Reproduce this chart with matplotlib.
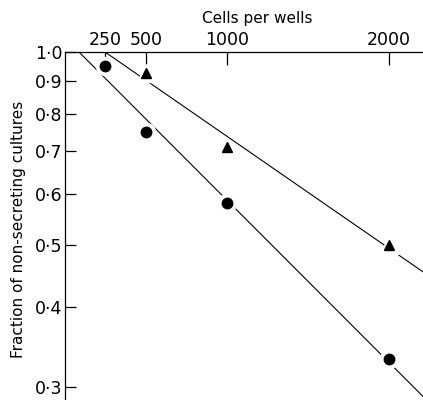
import numpy as np
import matplotlib
matplotlib.use("Agg")
import matplotlib.pyplot as plt
from matplotlib.ticker import FixedLocator, FixedFormatter, NullLocator

plt.rcParams['font.family'] = ['DejaVu Sans']

## values
circle_cells = [250, 500, 1000, 2000]
circle_frac = [0.951, 0.75, 0.581, 0.331]
tri_cells = [500, 1000, 2000]
tri_frac = [0.927, 0.71, 0.50]

x_ticks = [250, 500, 1000, 2000]
x_labels = ['250', '500', '1000', '2000']
y_ticks = [0.3, 0.4, 0.5, 0.6, 0.7, 0.8, 0.9, 1.0]
y_labels = ['0·3', '0·4', '0·5', '0·6', '0·7', '0·8', '0·9', '1·0']

fig = plt.figure(figsize=(4.23, 4.0), dpi=100)
ax = fig.add_axes([65 / 423, 0.0, 1 - 65 / 423, 1 - 52 / 400])
ax.set_yscale('log')
ax.set_xlim(0, 2210)
ax.set_ylim(0.286, 1.0)

##fitted lines (log-linear least squares), drawn from where they cross 1.0
xs = np.linspace(0, 2600, 200)
for cx, cy in [(circle_cells, circle_frac), (tri_cells, tri_frac)]:
    b, a = np.polyfit(cx, np.log10(cy), 1)
    x0 = -a / b
    xx = xs[xs >= x0]
    ax.plot(xx, 10 ** (a + b * xx), color='black', lw=0.8, zorder=1)

# white halo to break the line near each marker
ax.plot(circle_cells, circle_frac, 'o', ms=13, color='white', zorder=2, clip_on=False)
ax.plot(tri_cells, tri_frac, '^', ms=13, color='white', zorder=2, clip_on=False)
ax.plot(circle_cells, circle_frac, 'o', ms=7.5, color='black', zorder=3, clip_on=False)
ax.plot(tri_cells, tri_frac, '^', ms=7, color='black', zorder=3, clip_on=False)

for s in ['right', 'bottom']:
    ax.spines[s].set_visible(False)
for s in ['left', 'top']:
    ax.spines[s].set_linewidth(0.9)

ax.xaxis.tick_top()
ax.xaxis.set_major_locator(FixedLocator(x_ticks))
ax.xaxis.set_major_formatter(FixedFormatter(x_labels))
ax.xaxis.set_minor_locator(NullLocator())
ax.tick_params(axis='x', direction='in', length=9, width=0.9, pad=2, labelsize=12.5)

ax.yaxis.set_major_locator(FixedLocator(y_ticks))
ax.yaxis.set_major_formatter(FixedFormatter(y_labels))
ax.yaxis.set_minor_locator(NullLocator())
ax.tick_params(axis='y', direction='in', length=8, width=0.9, pad=2, labelsize=12.5)

ax.set_ylabel('Fraction of non-secreting cultures', fontsize=11)
ax.yaxis.set_label_coords(-0.11, 0.49)

fig.text(257 / 423, 1 - 18 / 400, 'Cells per wells', ha='center', va='center', fontsize=11)

fig.savefig('out.png', dpi=100)
